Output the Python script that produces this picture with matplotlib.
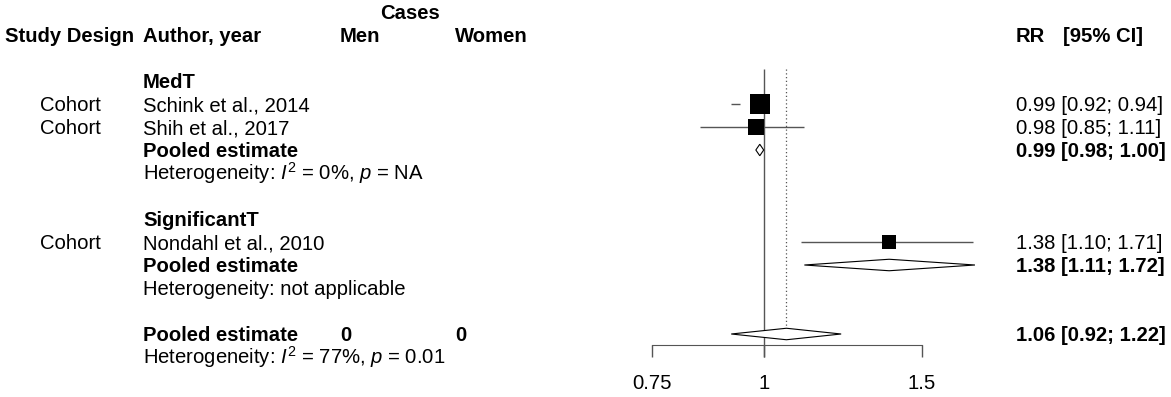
import numpy as np
import matplotlib
matplotlib.use("Agg")
import matplotlib.pyplot as plt
from matplotlib.patches import Polygon
from matplotlib.ticker import FixedLocator, FixedFormatter, NullLocator

plt.rcParams['font.family'] = ['Liberation Sans', 'DejaVu Sans']
plt.rcParams['mathtext.fontset'] = 'custom'
plt.rcParams['mathtext.rm'] = 'Liberation Sans'
plt.rcParams['mathtext.it'] = 'Liberation Sans:italic'
plt.rcParams['mathtext.bf'] = 'Liberation Sans:bold'

# ---- data ----
groups = ["MedT", "SignificantT"]
study_group = [0, 0, 1]
design = ["Cohort", "Cohort", "Cohort"]
studies = ["Schink et al., 2014", "Shih et al., 2017", "Nondahl et al., 2010"]
rr = [0.99, 0.98, 1.38]
lo = [0.92, 0.85, 1.10]
hi = [0.94, 1.11, 1.71]
weights = [45, 32, 23]

group_rr = [0.99, 1.38]
group_lo = [0.98, 1.11]
group_hi = [1.00, 1.72]
group_het = ["Heterogeneity: $I^2$ = 0%, $p$ = NA",
             "Heterogeneity: not applicable"]

overall_rr, overall_lo, overall_hi = 1.06, 0.92, 1.22
overall_het = "Heterogeneity: $I^2$ = 77%, $p$ = 0.01"
cases_men, cases_women = 0, 0

xticks = [0.75, 1, 1.5]

# ---- layout ----
W, H, DPI = 1171, 397, 100
row_px, row0_px = 23, 35          # pixel height of a row, centre of header row
px_one, px_per_ln = 763.7, 389.5  # pixel of RR=1 and pixels per log unit
fs = 14.6
line_col = '#555555'
x_design, x_author, x_men, x_women, x_rr, x_ci = 40, 143, 340, 455, 1016, 1063

ytop = (0 - row0_px) / row_px
ybot = (H - row0_px) / row_px

fig = plt.figure(figsize=(W / DPI, H / DPI), dpi=DPI)
ax_t = fig.add_axes([0, 0, 1, 1])
ax_t.set_xlim(0, W)
ax_t.set_ylim(ybot, ytop)
ax_t.axis('off')

xmin, xmax = 0.70, 1.80
left = (px_one + px_per_ln * np.log(xmin)) / W
right = (px_one + px_per_ln * np.log(xmax)) / W
ax = fig.add_axes([left, 0, right - left, 1])
ax.set_xscale('log')
ax.set_xlim(xmin, xmax)
ax.set_ylim(ybot, ytop)
ax.patch.set_alpha(0)

base = 0.31  # baseline offset (rows) below text centre


def txt(x, r, s, bold=False, ha='left'):
    ax_t.text(x, r + base, s, fontsize=fs, ha=ha, va='baseline',
              fontweight='bold' if bold else 'normal')


def diamond(est, l, h, r):
    d = 0.25
    ax.add_patch(Polygon([[l, r], [est, r - d], [h, r], [est, r + d]],
                         closed=True, facecolor='white', edgecolor='black',
                         lw=0.8, zorder=4))


# headers
txt(410, -1, "Cases", bold=True, ha='center')
txt(5, 0, "Study Design", bold=True)
txt(x_author, 0, "Author, year", bold=True)
txt(x_men, 0, "Men", bold=True)
txt(x_women, 0, "Women", bold=True)
txt(x_rr, 0, "RR", bold=True)
txt(x_ci, 0, "[95% CI]", bold=True)

r = 2
for g, name in enumerate(groups):
    txt(x_author, r, name, bold=True)
    r += 1
    for i in range(len(studies)):
        if study_group[i] != g:
            continue
        txt(x_design, r, design[i])
        txt(x_author, r, studies[i])
        txt(x_rr, r, f"{rr[i]:.2f} [{lo[i]:.2f}; {hi[i]:.2f}]")
        ax.hlines(r, lo[i], hi[i], color=line_col, lw=1, zorder=2)
        ax.plot(rr[i], r, marker='s', ms=2.04 * np.sqrt(weights[i]),
                color='black', mew=0, zorder=5)
        r += 1
    txt(x_author, r, "Pooled estimate", bold=True)
    txt(x_rr, r, f"{group_rr[g]:.2f} [{group_lo[g]:.2f}; {group_hi[g]:.2f}]", bold=True)
    diamond(group_rr[g], group_lo[g], group_hi[g], r)
    r += 1
    txt(x_author, r, group_het[g])
    r += 2

txt(x_author, r, "Pooled estimate", bold=True)
txt(x_men, r, str(cases_men), bold=True)
txt(x_women, r, str(cases_women), bold=True)
txt(x_rr, r, f"{overall_rr:.2f} [{overall_lo:.2f}; {overall_hi:.2f}]", bold=True)
diamond(overall_rr, overall_lo, overall_hi, r)
txt(x_author, r + 1, overall_het)

# reference lines
axis_row = r + 0.48
ax.vlines(1, 1.48, r + 1, color=line_col, lw=1, zorder=1)
ax.vlines(overall_rr, 1.48, r - 0.25, color=line_col, lw=0.9,
          linestyles=(0, (1, 2)), zorder=1)

# x axis
for s in ['left', 'right', 'top']:
    ax.spines[s].set_visible(False)
ax.spines['bottom'].set_position(('data', axis_row))
ax.spines['bottom'].set_bounds(min(xticks), max(xticks))
ax.spines['bottom'].set_color(line_col)
ax.xaxis.set_major_locator(FixedLocator(xticks))
ax.xaxis.set_major_formatter(FixedFormatter([f"{t:g}" for t in xticks]))
ax.xaxis.set_minor_locator(NullLocator())
ax.tick_params(axis='x', direction='out', length=8.6, width=1, color=line_col,
               labelsize=fs, pad=12)
ax.yaxis.set_visible(False)

fig.savefig("out.png", dpi=DPI)
